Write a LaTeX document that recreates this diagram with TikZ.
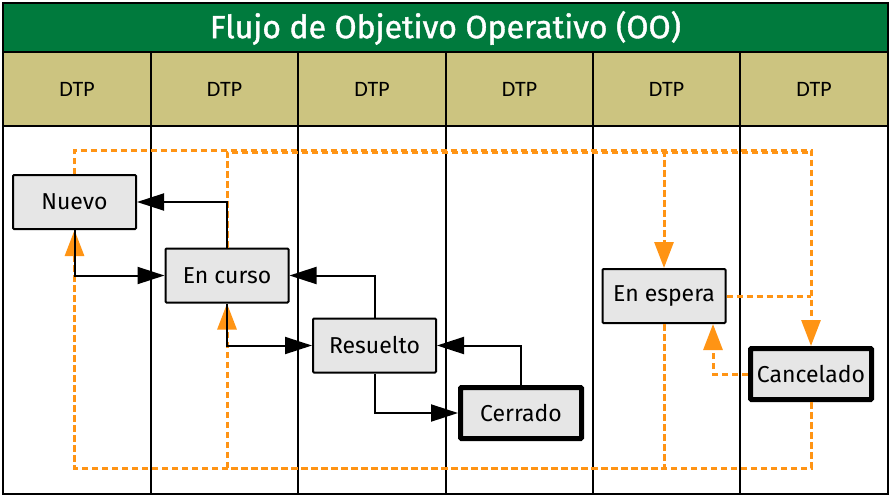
\documentclass[tikz,border=0pt]{standalone}
\usepackage{fontspec}
\setmainfont{Fira Sans}
\newfontfamily\hdrfont{Carlito}
\newfontfamily\titlefont[FakeBold=1.2]{Fira Sans}
\usetikzlibrary{arrows.meta,calc}
\definecolor{titlegreen}{RGB}{0,122,61}
\definecolor{hdrtan}{RGB}{204,196,128}
\definecolor{nodegray}{RGB}{230,230,230}
\definecolor{flowor}{RGB}{255,148,20}
\tikzset{
  state/.style={draw=black, line width=2pt, fill=nodegray, minimum width=123pt, minimum height=54pt, inner sep=0pt, font=\fontsize{23}{25}\selectfont, rounded corners=1pt},
  finalstate/.style={state, line width=5pt, minimum width=121pt, minimum height=51pt},
  conn/.style={draw=black, line width=2pt, -{Triangle[length=27pt,width=17pt]}},
  oline/.style={draw=flowor, line width=3pt, dash pattern=on 6.5pt off 3.5pt},
  oconn/.style={oline, -{Triangle[length=26pt,width=19pt]}},
  grid/.style={draw=black, line width=1.3pt},
  hdr/.style={font=\hdrfont\fontsize{22}{24}\selectfont, anchor=center}
}
\begin{document}
\begin{tikzpicture}[x=1pt,y=-1pt]
\useasboundingbox (0,0) rectangle (891,496);
\fill[white] (0,0) rectangle (891,496);
% title and header
\fill[titlegreen] (3,3) rectangle (888,52);
\fill[hdrtan] (3,52) rectangle (888,126);
\node[text=white, font=\titlefont\fontsize{32}{34}\selectfont] (title) at (445.5,28) {Flujo de Objetivo Operativo (OO)};
\foreach \i/\x in {1/77,2/224.5,3/372,4/519.5,5/666.5,6/814}{
  \node[hdr] (h\i) at (\x,89) {DTP};
}
\draw[grid] (3,52) -- (888,52);
\draw[grid] (3,126) -- (888,126);
\foreach \x in {151,298,446,593,740}{
  \draw[grid] (\x,52) -- (\x,494);
}
\draw[grid] (3,3) rectangle (888,494);
% nodes
\node[state] (nuevo) at (74.5,202) {Nuevo};
\node[state] (encurso) at (227,275.5) {En curso};
\node[state] (resuelto) at (374.5,345.5) {Resuelto};
\node[finalstate] (cerrado) at (521,413) {Cerrado};
\node[state] (espera) at (664,296) {En espera};
\node[finalstate] (cancelado) at (811,374) {Cancelado};
% orange coordinates
\coordinate (tr) at (811,150);
\coordinate (tm) at (664,150);
\coordinate (tr2) at (811,152);
\coordinate (bl) at (74.5,468);
\coordinate (bc) at (227,468);
\coordinate (esb) at ($(espera.south)+(49,0)$);
% orange dashed connectors
\draw[oconn] (nuevo.north) |- (tr) -- (cancelado.north);
\draw[oline] (encurso.north) |- (tr2);
\draw[oconn] (tm) -- (espera.north);
\draw[oconn] (espera.south) |- (bl) -- (nuevo.south);
\draw[oconn] (cancelado.south) |- (bc) -- (encurso.south);
\draw[oline] (espera.east) -- (espera.east -| cancelado.north);
\draw[oconn] (cancelado.west) -| (esb);
% black connectors
\draw[conn] (encurso.north) |- (nuevo.east);
\draw[conn] (nuevo.south) |- (encurso.west);
\draw[conn] (resuelto.north) |- (encurso.east);
\draw[conn] (encurso.south) |- (resuelto.west);
\draw[conn] (cerrado.north) |- (resuelto.east);
\draw[conn] (resuelto.south) |- (cerrado.west);
\end{tikzpicture}
\end{document}
